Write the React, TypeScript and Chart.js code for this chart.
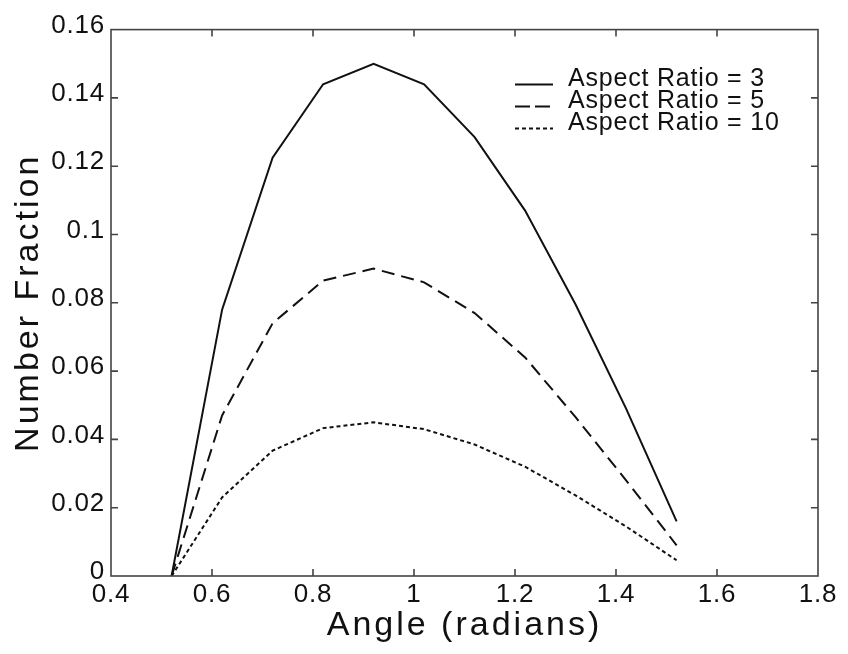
import { useEffect, useRef } from 'react';
import { Chart, registerables } from 'chart.js';

Chart.register(...registerables);

// ---- data ----
const angles = [0.52, 0.62, 0.72, 0.82, 0.92, 1.02, 1.12, 1.22, 1.32, 1.42, 1.52];
const ratio3 = [0, 0.078, 0.1225, 0.144, 0.15, 0.144, 0.1285, 0.107, 0.0795, 0.049, 0.016];
const ratio5 = [0, 0.047, 0.074, 0.0865, 0.09, 0.086, 0.077, 0.064, 0.0465, 0.028, 0.009];
const ratio10 = [0, 0.023, 0.0367, 0.0433, 0.045, 0.043, 0.0385, 0.032, 0.0236, 0.0145, 0.0046];
const seriesLabels = ['Aspect Ratio = 3', 'Aspect Ratio = 5', 'Aspect Ratio = 10'];
const xTickLabels = ['0.4', '0.6', '0.8', '1', '1.2', '1.4', '1.6', '1.8'];
const yTickLabels = ['0', '0.02', '0.04', '0.06', '0.08', '0.1', '0.12', '0.14', '0.16'];
const xTitle = 'Angle (radians)';
const yTitle = 'Number Fraction';

const FONT = '"Liberation Sans", Arial, Helvetica, sans-serif';
const INK = '#111111';

const toPoints = (ys: number[]) => ys.map((y, i) => ({ x: angles[i], y }));

const framePlugin = {
  id: 'frameAndLegend',
  beforeDraw(chart: any) {
    // axis titles are drawn first (grid layer)
    chart.ctx.letterSpacing = '3px';
  },
  beforeDatasetsDraw(chart: any) {
    // tick labels are drawn after datasets (ticks.z = 1)
    chart.ctx.letterSpacing = '0.8px';
  },
  afterDraw(chart: any) {
    const { ctx, chartArea: a, scales } = chart;
    ctx.save();
    ctx.letterSpacing = '0px';
    // frame
    ctx.strokeStyle = '#444444';
    ctx.lineWidth = 1.6;
    ctx.setLineDash([]);
    ctx.strokeRect(a.left, a.top, a.right - a.left, a.bottom - a.top);
    // inward tick marks
    const tl = 7;
    ctx.beginPath();
    scales.x.ticks.forEach((t: any) => {
      const px = scales.x.getPixelForValue(t.value);
      if (px <= a.left + 1 || px >= a.right - 1) return;
      ctx.moveTo(px, a.bottom);
      ctx.lineTo(px, a.bottom - tl);
      ctx.moveTo(px, a.top);
      ctx.lineTo(px, a.top + tl);
    });
    scales.y.ticks.forEach((t: any) => {
      const py = scales.y.getPixelForValue(t.value);
      if (py <= a.top + 1 || py >= a.bottom - 1) return;
      ctx.moveTo(a.left, py);
      ctx.lineTo(a.left + tl, py);
      ctx.moveTo(a.right, py);
      ctx.lineTo(a.right - tl, py);
    });
    ctx.stroke();

    // legend
    const lx = a.left + 404;
    const lineLen = 38;
    const tx = a.left + 457;
    const y0 = a.top + 50;
    const rowH = 22;
    ctx.font = `25px ${FONT}`;
    ctx.textBaseline = 'middle';
    ctx.textAlign = 'left';
    ctx.fillStyle = INK;
    chart.data.datasets.forEach((ds: any, i: number) => {
      const cy = y0 + i * rowH;
      ctx.strokeStyle = INK;
      ctx.lineWidth = 2;
      ctx.setLineDash(ds.legendDash || []);
      ctx.beginPath();
      ctx.moveTo(lx, cy + 5);
      ctx.lineTo(lx + lineLen, cy + 5);
      ctx.stroke();
      ctx.setLineDash([]);
      ctx.letterSpacing = '0.8px';
      ctx.fillText(ds.label, tx, cy);
      ctx.letterSpacing = '0px';
    });
    ctx.restore();
  },
};

export default function App() {
  const ref = useRef<HTMLCanvasElement>(null);

  useEffect(() => {
    const chart = new Chart(ref.current as HTMLCanvasElement, {
      type: 'line',
      data: {
        datasets: [
          {
            label: seriesLabels[0],
            data: toPoints(ratio3),
            borderColor: INK,
            borderWidth: 2,
            pointRadius: 0,
            tension: 0,
            borderDash: [],
            legendDash: [],
          } as any,
          {
            label: seriesLabels[1],
            data: toPoints(ratio5),
            borderColor: INK,
            borderWidth: 2,
            pointRadius: 0,
            tension: 0,
            borderDash: [13, 7],
            legendDash: [15, 5],
          } as any,
          {
            label: seriesLabels[2],
            data: toPoints(ratio10),
            borderColor: INK,
            borderWidth: 2,
            pointRadius: 0,
            tension: 0,
            borderDash: [4, 3],
            legendDash: [4, 3],
          } as any,
        ],
      },
      options: {
        responsive: false,
        animation: false,
        devicePixelRatio: 1,
        layout: { padding: { top: 15, right: 22, left: 0, bottom: 0 } },
        plugins: {
          legend: { display: false },
          tooltip: { enabled: false },
        },
        scales: {
          x: {
            type: 'linear',
            min: 0.4,
            max: 1.8,
            grid: { display: false, drawTicks: false },
            border: { display: false },
            ticks: {
              stepSize: 0.2,
              maxRotation: 0,
              autoSkip: false,
              padding: 3,
              color: INK,
              font: { family: FONT, size: 26 },
              z: 1,
              callback: (_v: any, i: number) => xTickLabels[i],
            },
            title: {
              display: true,
              text: xTitle,
              color: INK,
              font: { family: FONT, size: 34 },
              padding: { top: 0, bottom: 0 },
            },
            afterFit: (s: any) => {
              s.height = 70;
            },
          },
          y: {
            type: 'linear',
            min: 0,
            max: 0.16,
            grid: { display: false, drawTicks: false },
            border: { display: false },
            ticks: {
              stepSize: 0.02,
              padding: 6,
              labelOffset: -4,
              color: INK,
              font: { family: FONT, size: 26 },
              z: 1,
              callback: (_v: any, i: number) => yTickLabels[i],
            },
            title: {
              display: true,
              text: yTitle,
              color: INK,
              font: { family: FONT, size: 34 },
              padding: { top: 0, bottom: 0 },
            },
            afterFit: (s: any) => {
              s.width = 103;
            },
          },
        },
      } as any,
      plugins: [framePlugin],
    });
    return () => chart.destroy();
  }, []);

  return <canvas ref={ref} width={832} height={638} style={{ display: 'block' }} />;
}
